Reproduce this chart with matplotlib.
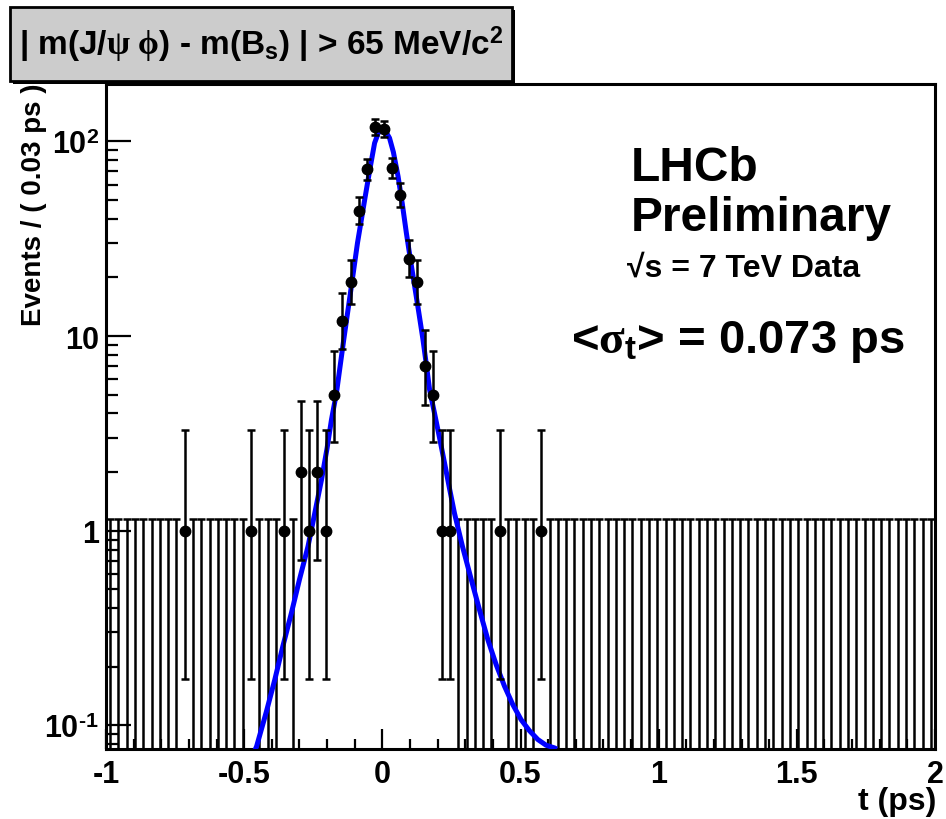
import math
import numpy as np
import matplotlib
matplotlib.use('Agg')
import matplotlib.pyplot as plt
from matplotlib.patches import Rectangle
from matplotlib.ticker import MultipleLocator, LogLocator, NullFormatter

plt.rcParams['font.family'] = ['Liberation Sans', 'DejaVu Sans']
plt.rcParams['font.weight'] = 'bold'
plt.rcParams['mathtext.fontset'] = 'custom'
plt.rcParams['mathtext.rm'] = 'Liberation Sans:bold'
plt.rcParams['mathtext.bf'] = 'Liberation Sans:bold'
plt.rcParams['mathtext.sf'] = 'Liberation Serif'
plt.rcParams['mathtext.it'] = 'Liberation Serif:italic'

# binning: 100 bins of 0.03 ps between -1 and 2 ps
T_MIN, T_MAX, N_BINS = -1.0, 2.0, 100

# bins with entries (bin centres, ps) and their counts
t_filled = [-0.715, -0.475, -0.355, -0.295, -0.265, -0.235, -0.205, -0.175,
            -0.145, -0.115, -0.085, -0.055, -0.025, 0.005, 0.035, 0.065,
            0.095, 0.125, 0.155, 0.185, 0.215, 0.245, 0.425, 0.575]
counts = [1, 1, 1, 2, 1, 2, 1, 5,
          12, 19, 44, 72, 118, 116, 73, 53,
          25, 19, 7, 5, 1, 1, 1, 1]

# fitted pdf
fit_t = [-0.462, -0.455, -0.42, -0.389, -0.36, -0.329, -0.30, -0.269, -0.245,
         -0.220, -0.200, -0.184, -0.166, -0.14, -0.112, -0.09, -0.064, -0.045,
         -0.028, -0.014, 0.0, 0.013, 0.026, 0.04, 0.057, 0.072, 0.087, 0.102,
         0.117, 0.132, 0.147, 0.160, 0.171, 0.189, 0.207, 0.225, 0.243, 0.261,
         0.29, 0.322, 0.352, 0.382, 0.412, 0.442, 0.472, 0.502, 0.532, 0.563,
         0.593, 0.623, 0.632]
fit_y = [0.074, 0.078, 0.117, 0.172, 0.255, 0.378, 0.56, 0.83, 1.22,
         1.83, 2.65, 3.72, 5.1, 9.5, 18, 30, 50, 72,
         98, 111, 116, 112, 104, 88, 66, 48, 33.8, 24.5,
         18, 13.2, 9.6, 7.0, 5.3, 4.0, 3.0, 2.23, 1.65, 1.23,
         0.83, 0.56, 0.39, 0.275, 0.205, 0.159, 0.128, 0.107, 0.094, 0.0845,
         0.079, 0.0766, 0.0755]


def pois_cdf(n, mu):
    if n < 0:
        return 0.0
    k = np.arange(n + 1)
    logf = np.array([math.lgamma(x + 1) for x in k])
    return float(np.exp(-mu + k * np.log(mu) - logf).sum())


def solve(f, target, lo, hi):
    # f decreases with mu
    for _ in range(80):
        mid = 0.5 * (lo + hi)
        if f(mid) > target:
            lo = mid
        else:
            hi = mid
    return 0.5 * (lo + hi)


def poisson_interval(n):
    a = 0.5 * (1 - 0.682689)
    if n == 0:
        # one sided for empty bins, as RooFit draws them
        return 0.0, -math.log(2 * a)
    up = solve(lambda m: pois_cdf(n, m), a, 1e-9, n + 10 * math.sqrt(n + 1) + 10)
    low = solve(lambda m: pois_cdf(n - 1, m), 1 - a, 1e-9, n + 5)
    return low, up


edges = np.linspace(T_MIN, T_MAX, N_BINS + 1)
centres = 0.5 * (edges[1:] + edges[:-1])
filled_idx = [int(round((t - T_MIN) / 0.03 - 0.5)) for t in t_filled]
t_empty = np.array([c for i, c in enumerate(centres) if i not in filled_idx])
up0 = poisson_interval(0)[1]

err_lo, err_hi = [], []
for n in counts:
    lo, up = poisson_interval(n)
    err_lo.append(n - lo)
    err_hi.append(up - n)

fig = plt.figure(figsize=(9.46, 8.2), dpi=100)
ax = fig.add_axes([106 / 946, 1 - 750 / 820, (935 - 106) / 946, (750 - 85) / 820])
ax.set_yscale('log')

# empty bins: error bar from 0 up to 1.15
tiny = 1e-3
ax.errorbar(t_empty, np.full(len(t_empty), tiny),
            yerr=[np.zeros(len(t_empty)), np.full(len(t_empty), up0 - tiny)],
            fmt='none', ecolor='black', elinewidth=1.8, capsize=3, capthick=1.8, zorder=2)

ax.plot(fit_t, fit_y, color='#0000ff', lw=3.6, zorder=3, solid_capstyle='butt')

ax.errorbar(t_filled, counts, yerr=[err_lo, err_hi], fmt='o', color='black',
            ms=7.5, elinewidth=1.8, capsize=3, capthick=1.8, zorder=4)

ax.set_xlim(T_MIN, T_MAX)
ax.set_ylim(0.0756, 197)

ax.xaxis.set_minor_locator(MultipleLocator(0.1))
ax.set_xticks([-1, -0.5, 0, 0.5, 1, 1.5, 2])
ax.set_xticklabels(['-1', '-0.5', '0', '0.5', '1', '1.5', '2'])
ax.set_yticks([0.1, 1, 10, 100])
ax.set_yticklabels([r'$10^{\text{-1}}$', '1', '10', r'$10^{2}$'])
ax.yaxis.set_minor_locator(LogLocator(base=10, subs=np.arange(2, 10)))
ax.yaxis.set_minor_formatter(NullFormatter())

ax.tick_params(axis='both', which='both', direction='in', top=False, right=False,
               width=1.6, labelsize=22, colors='black')
ax.tick_params(axis='x', which='major', length=14.5, pad=7)
ax.tick_params(axis='x', which='minor', length=7)
ax.tick_params(axis='y', which='major', length=18, pad=5)
ax.tick_params(axis='y', which='minor', length=8.5)
for lab in ax.get_xticklabels() + ax.get_yticklabels():
    lab.set_fontweight('bold')
for sp in ax.spines.values():
    sp.set_linewidth(2.2)

# axis titles
fig.text(34 / 946, 1 - 84 / 820, 'Events / ( 0.03 ps )', rotation=90,
         ha='center', va='top', fontsize=20, fontweight='bold')
fig.text(936 / 946, 1 - 810 / 820, 't (ps)', ha='right', va='baseline',
         fontsize=23, fontweight='bold')

# cut label box
shadow = Rectangle((13 / 946, 1 - 85 / 820), 502 / 946, 74 / 820, transform=fig.transFigure,
                   facecolor='black', edgecolor='none', zorder=5)
box = Rectangle((10 / 946, 1 - 82 / 820), 502 / 946, 74 / 820, transform=fig.transFigure,
                facecolor='#cccccc', edgecolor='black', lw=2, zorder=6)
fig.add_artist(shadow)
fig.add_artist(box)
fig.text(261 / 946, 1 - 55 / 820,
         r'$\text{| m(J/}\mathsf{\psi}\ \mathsf{\phi}\text{) - m(B}_{\text{s}}\text{) | > 65 MeV/c}^{\text{2}}$',
         ha='center', va='baseline', fontsize=24, zorder=7)

# labels inside the frame
fig.text(631 / 946, 1 - 181 / 820, 'LHCb', ha='left', va='baseline', fontsize=34.5, fontweight='bold')
fig.text(631 / 946, 1 - 231 / 820, 'Preliminary', ha='left', va='baseline', fontsize=34.5, fontweight='bold')
fig.text(627 / 946, 1 - 277 / 820, '√s = 7 TeV Data', ha='left', va='baseline', fontsize=23, fontweight='bold')
fig.text(571 / 946, 1 - 353 / 820,
         r'$\text{<}\mathsf{\sigma}_{\text{t}}\text{> = 0.073 ps}$',
         ha='left', va='baseline', fontsize=34)

fig.savefig('out.png', dpi=100)
